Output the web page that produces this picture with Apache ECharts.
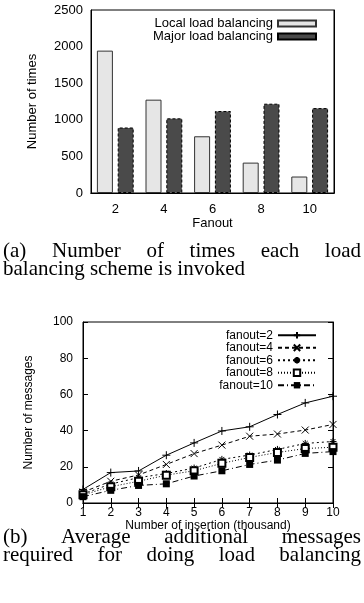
<!DOCTYPE html>
<html>
<head>
<meta charset="utf-8">
<script src="https://cdn.jsdelivr.net/npm/echarts@6/dist/echarts.min.js"></script>
<style>
html, body { margin: 0; padding: 0; background: #fff; }
#main { width: 364px; height: 603px; }
</style>
</head>
<body>
<div id="main"></div>
<script>
// (a) 各扇出下两种负载均衡被调用次数
var fanouts = ['2', '4', '6', '8', '10'];
var localLB = [1945, 1275, 775, 415, 225];
var majorLB = [895, 1020, 1120, 1220, 1160];

// (b) 平均额外消息数
var insertions = [1, 2, 3, 4, 5, 6, 7, 8, 9, 10];
var fanout2  = [7.5, 16.8, 17.7, 26.4, 33.2, 39.8, 42.1, 48.9, 55.3, 59.0];
var fanout4  = [6.0, 12.0, 15.5, 21.3, 27.3, 32.0, 36.9, 38.1, 40.3, 43.4];
var fanout6  = [5.0, 10.5, 14.0, 16.3, 19.3, 24.1, 26.5, 29.6, 32.9, 34.0];
var fanout8  = [4.5, 9.0, 12.0, 15.4, 17.8, 21.9, 25.2, 27.9, 30.1, 30.8];
var fanout10 = [3.5, 7.0, 9.7, 10.6, 14.9, 17.8, 21.3, 23.7, 27.4, 28.4];

var yTicksA = [0, 2500, 500];
var yTicksB = [0, 100, 20];

var sans = 'Liberation Sans';
var serif = 'Liberation Serif';
var capSize = 21;

function pairs(ys) {
    var out = [];
    for (var i = 0; i < ys.length; i++) {
        out.push([insertions[i], ys[i]]);
    }
    return out;
}
function plain(v) { return String(v); }

// 题注, 两端对齐
var ctx = document.createElement('canvas').getContext('2d');
ctx.font = capSize + 'px "' + serif + '"';
function capLine(text, y, justify) {
    var words = text.split(' ');
    var st = { fontSize: capSize, fontFamily: serif, fill: '#000', verticalAlign: 'middle' };
    if (!justify) {
        return [{ type: 'text', x: 3, y: y, style: echarts.util.extend({ text: text }, st) }];
    }
    var widths = [], sum = 0;
    for (var i = 0; i < words.length; i++) {
        widths[i] = ctx.measureText(words[i]).width;
        sum += widths[i];
    }
    var gap = (361 - 3 - sum) / (words.length - 1);
    var x = 3, els = [];
    for (var j = 0; j < words.length; j++) {
        els.push({ type: 'text', x: x, y: y, style: echarts.util.extend({ text: words[j] }, st) });
        x += widths[j] + gap;
    }
    return els;
}
var captions = [].concat(
    capLine('(a) Number of times each load', 251, true),
    capLine('balancing scheme is invoked', 269, false),
    capLine('(b) Average additional messages', 537, true),
    capLine('required for doing load balancing', 555, true)
);

var tick = { inside: true, length: 5, lineStyle: { color: '#000' } };
var line = { show: true, lineStyle: { color: '#000', width: 1 } };

var chart = echarts.init(document.getElementById('main'));
var option = {
    animation: false,
    backgroundColor: '#fff',
    textStyle: { fontFamily: sans },
    grid: [
        { left: 91, right: 30, top: 10, height: 183, show: true, borderColor: '#000', borderWidth: 1 },
        { left: 83, right: 31, top: 322, height: 181, show: true, borderColor: '#000', borderWidth: 1 }
    ],
    legend: [
        {
            orient: 'vertical', align: 'right', right: 47, top: 17, padding: 0,
            itemWidth: 38, itemHeight: 6, itemGap: 0, icon: 'rect',
            textStyle: { fontSize: 13, lineHeight: 12, color: '#000', fontFamily: sans },
            data: ['Local load balancing', 'Major load balancing']
        },
        {
            orient: 'vertical', align: 'right', right: 47, top: 329, padding: 0,
            itemWidth: 38, itemHeight: 8, itemGap: 0,
            textStyle: { fontSize: 12, lineHeight: 12.5, color: '#000', fontFamily: sans },
            data: ['fanout=2', 'fanout=4', 'fanout=6', 'fanout=8', 'fanout=10']
        }
    ],
    xAxis: [
        {
            type: 'category', gridIndex: 0, data: fanouts, position: 'bottom',
            axisLine: line, axisTick: { inside: true, length: 5, alignWithLabel: true, lineStyle: { color: '#000' } },
            axisLabel: { fontSize: 13, color: '#000', margin: 10 },
            name: 'Fanout', nameLocation: 'middle', nameGap: 24,
            nameTextStyle: { fontSize: 13, color: '#000' }
        },
        {
            type: 'category', gridIndex: 0, data: fanouts, position: 'top',
            axisLine: line, axisLabel: { show: false },
            axisTick: { inside: true, length: 5, alignWithLabel: true, lineStyle: { color: '#000' },
                interval: function (i) { return i % 2 === 0; } }
        },
        {
            type: 'value', gridIndex: 1, min: insertions[0], max: insertions[insertions.length - 1], interval: 1,
            axisLine: line, axisTick: tick, splitLine: { show: false },
            axisLabel: { fontSize: 12, color: '#000', margin: 4, formatter: plain },
            name: 'Number of insertion (thousand)', nameLocation: 'middle', nameGap: 15,
            nameTextStyle: { fontSize: 12, color: '#000' }
        },
        {
            type: 'value', gridIndex: 1, position: 'top', min: insertions[0], max: insertions[insertions.length - 1], interval: 1,
            axisLine: line, axisTick: tick, splitLine: { show: false }, axisLabel: { show: false }
        }
    ],
    yAxis: [
        {
            type: 'value', gridIndex: 0, min: yTicksA[0], max: yTicksA[1], interval: yTicksA[2],
            axisLine: line, axisTick: tick, splitLine: { show: false },
            axisLabel: { fontSize: 13, color: '#000', margin: 8, formatter: plain },
            name: 'Number of times', nameLocation: 'middle', nameGap: 52,
            nameTextStyle: { fontSize: 13, color: '#000' }
        },
        {
            type: 'value', gridIndex: 0, position: 'right', min: yTicksA[0], max: yTicksA[1], interval: yTicksA[2],
            axisLine: line, axisTick: tick, splitLine: { show: false }, axisLabel: { show: false }
        },
        {
            type: 'value', gridIndex: 1, min: yTicksB[0], max: yTicksB[1], interval: yTicksB[2],
            axisLine: line, axisTick: tick, splitLine: { show: false },
            axisLabel: { fontSize: 12, color: '#000', margin: 10, formatter: plain },
            name: 'Number of messages', nameLocation: 'middle', nameGap: 48,
            nameTextStyle: { fontSize: 12, color: '#000' }
        },
        {
            type: 'value', gridIndex: 1, position: 'right', min: yTicksB[0], max: yTicksB[1], interval: yTicksB[2],
            axisLine: line, axisTick: tick, splitLine: { show: false }, axisLabel: { show: false }
        }
    ],
    series: [
        {
            name: 'Local load balancing', type: 'bar', xAxisIndex: 0, yAxisIndex: 0,
            data: localLB, barWidth: 16, barGap: '30%',
            itemStyle: { color: '#e6e6e6', borderColor: '#333', borderWidth: 1 }
        },
        {
            name: 'Major load balancing', type: 'bar', xAxisIndex: 0, yAxisIndex: 0,
            data: majorLB, barWidth: 16,
            itemStyle: { color: '#4a4a4a', borderColor: '#000', borderWidth: 1, borderType: [3, 2] }
        },
        {
            name: 'fanout=2', type: 'line', xAxisIndex: 2, yAxisIndex: 2, data: pairs(fanout2),
            symbol: 'path://M5,0V10M0,5H10', symbolSize: 8,
            itemStyle: { color: '#000', borderColor: '#000', borderWidth: 1 },
            lineStyle: { color: '#000', width: 1, type: 'solid' }
        },
        {
            name: 'fanout=4', type: 'line', xAxisIndex: 2, yAxisIndex: 2, data: pairs(fanout4),
            symbol: 'path://M0,0L10,10M10,0L0,10', symbolSize: 7,
            itemStyle: { color: '#000', borderColor: '#000', borderWidth: 1 },
            lineStyle: { color: '#000', width: 1, type: [4, 3] }
        },
        {
            name: 'fanout=6', type: 'line', xAxisIndex: 2, yAxisIndex: 2, data: pairs(fanout6),
            symbol: 'path://M5,0V10M0,5H10M1.5,1.5L8.5,8.5M8.5,1.5L1.5,8.5', symbolSize: 7,
            itemStyle: { color: '#000', borderColor: '#000', borderWidth: 1 },
            lineStyle: { color: '#000', width: 1, type: [2, 3] }
        },
        {
            name: 'fanout=8', type: 'line', xAxisIndex: 2, yAxisIndex: 2, data: pairs(fanout8),
            symbol: 'emptyRect', symbolSize: 7,
            itemStyle: { color: '#000', borderColor: '#000', borderWidth: 1 },
            lineStyle: { color: '#000', width: 1, type: [1, 2] }
        },
        {
            name: 'fanout=10', type: 'line', xAxisIndex: 2, yAxisIndex: 2, data: pairs(fanout10),
            symbol: 'rect', symbolSize: 7,
            itemStyle: { color: '#000' },
            lineStyle: { color: '#000', width: 1, type: [6, 3, 1, 3] }
        }
    ],
    graphic: captions
};
chart.setOption(option);
</script>
</body>
</html>
